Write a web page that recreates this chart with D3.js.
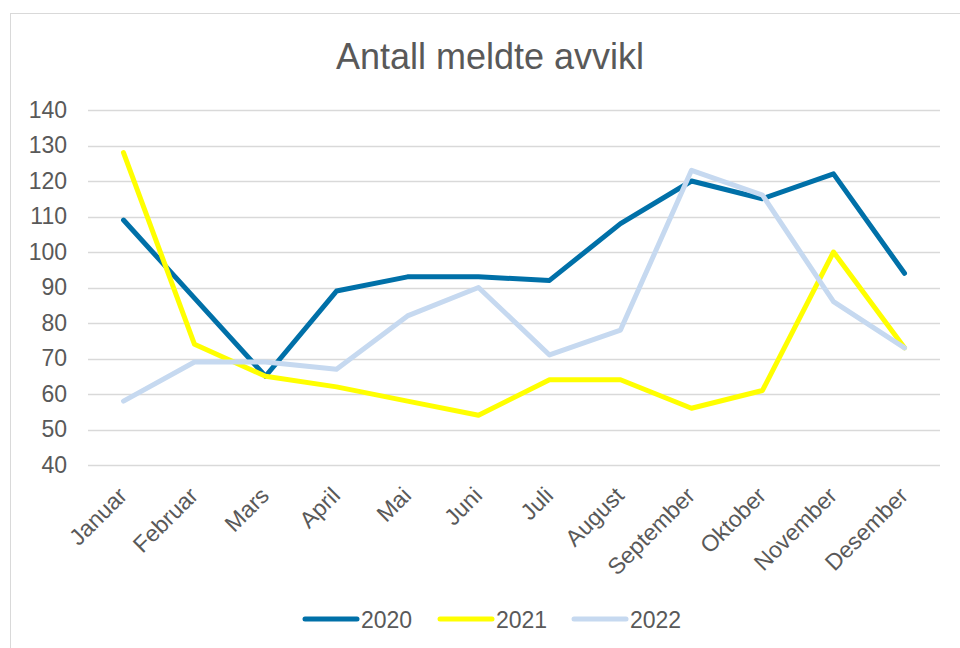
<!DOCTYPE html>
<html>
<head>
<meta charset="utf-8">
<script src="https://cdn.jsdelivr.net/npm/d3@7"></script>
<style>
  body { margin: 0; background: #fff; }
  svg { font-family: "Liberation Sans", Arial, sans-serif; }
</style>
</head>
<body>
<svg id="chart" width="960" height="648"></svg>
<script>
var width = 960,
   height = 648;

// Data
var months = ["Januar", "Februar", "Mars", "April", "Mai", "Juni", "Juli",
   "August", "September", "Oktober", "November", "Desember"];
var years = ["2020", "2021", "2022"];
var values2020 = [109, 87, 65, 89, 93, 93, 92, 108, 120, 115, 122, 94];
var values2021 = [128, 74, 65, 62, 58, 54, 64, 64, 56, 61, 100, 73];
var values2022 = [58, 69, 69, 67, 82, 90, 71, 78, 123, 116, 86, 73];
var yTicks = [40, 50, 60, 70, 80, 90, 100, 110, 120, 130, 140];
var colors = ["#0070A8", "#FFFF00", "#C6D9F0"];

var series = [values2020, values2021, values2022];

var margin = { left: 88, right: 20, top: 110, bottom: 183 };
var labelSize = "23px";

var svg = d3.select("svg#chart");

// chart border
svg.append("rect")
   .attr("x", 10.5)
   .attr("y", 13.5)
   .attr("width", 960)
   .attr("height", 660)
   .attr("fill", "#fff")
   .attr("stroke", "#d9d9d9");

// title
svg.append("text")
   .attr("x", 490)
   .attr("y", 69)
   .attr("text-anchor", "middle")
   .attr("fill", "#595959")
   .style("font-size", "36px")
   .text("Antall meldte avvikl");

var x = d3.scaleBand()
   .domain(months)
   .range([margin.left, width - margin.right]);

var y = d3.scaleLinear()
   .domain([40, 140])
   .range([height - margin.bottom, margin.top]);

// gridlines
svg.append("g")
   .selectAll("line")
   .data(yTicks)
   .enter()
   .append("line")
   .attr("x1", margin.left)
   .attr("x2", width - margin.right)
   .attr("y1", (d) => Math.round(y(d)) + 0.5)
   .attr("y2", (d) => Math.round(y(d)) + 0.5)
   .attr("stroke", "#d9d9d9")
   .attr("stroke-width", 1.5);

// y axis labels
var yAxis = svg.append("g")
   .attr("transform", "translate(" + margin.left + ",0)")
   .call(d3.axisLeft(y).tickValues(yTicks).tickSize(0).tickPadding(21));
yAxis.select(".domain").remove();
yAxis.selectAll("text")
   .attr("fill", "#595959")
   .style("font-size", labelSize)
   .style("font-family", "'Liberation Sans', Arial, sans-serif");

// x axis labels
var xAxis = svg.append("g")
   .attr("transform", "translate(0," + (height - margin.bottom) + ")")
   .call(d3.axisBottom(x).tickSize(0).tickPadding(0));
xAxis.select(".domain").remove();
xAxis.selectAll("text")
   .attr("fill", "#595959")
   .style("font-size", labelSize)
   .style("font-family", "'Liberation Sans', Arial, sans-serif")
   .attr("text-anchor", "end")
   .attr("dy", null)
   .attr("y", 0)
   .attr("transform", "translate(5,32) rotate(-45)");

// lines
var line = d3.line()
   .x((d, i) => x(months[i]) + x.bandwidth() / 2)
   .y((d) => y(d));

svg.append("g")
   .selectAll("path")
   .data(series)
   .enter()
   .append("path")
   .attr("d", line)
   .attr("fill", "none")
   .attr("stroke", (d, i) => colors[i])
   .attr("stroke-width", 5)
   .attr("stroke-linejoin", "round")
   .attr("stroke-linecap", "round");

// legend
var legendX = [303, 438, 572];
var legend = svg.append("g")
   .selectAll("g")
   .data(years)
   .enter()
   .append("g")
   .attr("transform", (d, i) => "translate(" + legendX[i] + ",619)");

legend.append("line")
   .attr("x1", 2)
   .attr("x2", 54)
   .attr("stroke", (d, i) => colors[i])
   .attr("stroke-width", 5)
   .attr("stroke-linecap", "round");

legend.append("text")
   .attr("x", 58)
   .attr("y", 8.5)
   .attr("fill", "#595959")
   .style("font-size", labelSize)
   .text((d) => d);
</script>
</body>
</html>
